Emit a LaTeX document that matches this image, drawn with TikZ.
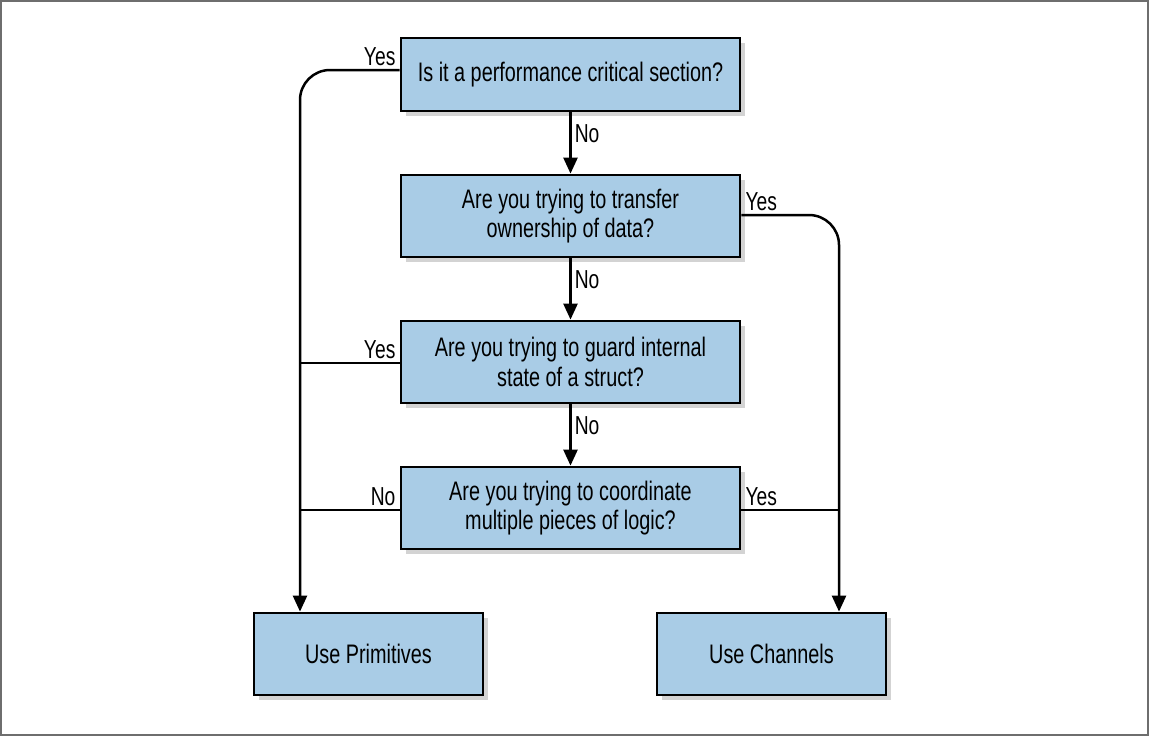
\documentclass[tikz,border=0pt]{standalone}
\usepackage{fontspec}
\setmainfont[FakeStretch=0.74]{Liberation Sans}
\usetikzlibrary{arrows.meta}
\usetikzlibrary{shadows}
\usetikzlibrary{positioning}
\definecolor{boxblue}{RGB}{169, 204, 230}
\definecolor{framegray}{RGB}{110, 110, 110}

\tikzset{
  question/.style={draw, line width=1.4pt, fill=boxblue, minimum width=169.5pt, minimum height=41pt,
                   align=center, inner sep=0pt, font=\fontsize{13.4}{14.6}\selectfont,
                   drop shadow={shadow xshift=2.5pt, shadow yshift=-2.5pt, opacity=0.35}},
  answer/.style={question, minimum width=114.5pt},
  flow/.style={line width=1.25pt, -{Triangle[width=7pt,length=8pt]}},
  link/.style={line width=1.25pt},
  lbl/.style={font=\fontsize{13}{14}\selectfont, inner sep=1.5pt}
}

\begin{document}
\begin{tikzpicture}[x=0.5pt, y=-0.5pt]
    \useasboundingbox (0,0) rectangle (1149,736);
    \draw[framegray, line width=1pt] (1,1) rectangle (1148,735);

    % questions
    \node[question, minimum height=36.5pt] (q1) at (570.5,74.5) {Is it a performance critical section?};
    \node[question] (q2) [below=30.6pt of q1] {Are you trying to transfer\\ownership of data?};
    \node[question] (q3) [below=30.6pt of q2] {Are you trying to guard internal\\state of a struct?};
    \node[question] (q4) [below=30.6pt of q3] {Are you trying to coordinate\\multiple pieces of logic?};

    % answers
    \node[answer] (prim) at (368.5,654) {Use Primitives};
    \node[answer] (chan) at (771.5,654) {Use Channels};
    \coordinate (lbus) at (300,613);
    \coordinate (rbus) at (839,613);

    \draw[flow] (q1) -- node[lbl, right, pos=0.35] {No} (q2);
    \draw[flow] (q2) -- node[lbl, right, pos=0.35] {No} (q3);
    \draw[flow] (q3) -- node[lbl, right, pos=0.35] {No} (q4);

    \draw[flow, rounded corners=15pt] ([yshift=2.25pt]q1.west) node[lbl, above left] {Yes} -| (prim.north -| lbus);
    \draw[flow, rounded corners=15pt] ([yshift=0.5pt]q2.east) node[lbl, above right] {Yes} -| (chan.north -| rbus);
    \draw[link] ([yshift=-0.5pt]q3.west) node[lbl, above left] {Yes} -- ([yshift=-0.5pt]q3.west -| lbus);
    \draw[link] ([yshift=-1pt]q4.west) node[lbl, above left] {No} -- ([yshift=-1pt]q4.west -| lbus);
    \draw[link] ([yshift=-1pt]q4.east) node[lbl, above right] {Yes} -- ([yshift=-1pt]q4.east -| rbus);
\end{tikzpicture}
\end{document}
